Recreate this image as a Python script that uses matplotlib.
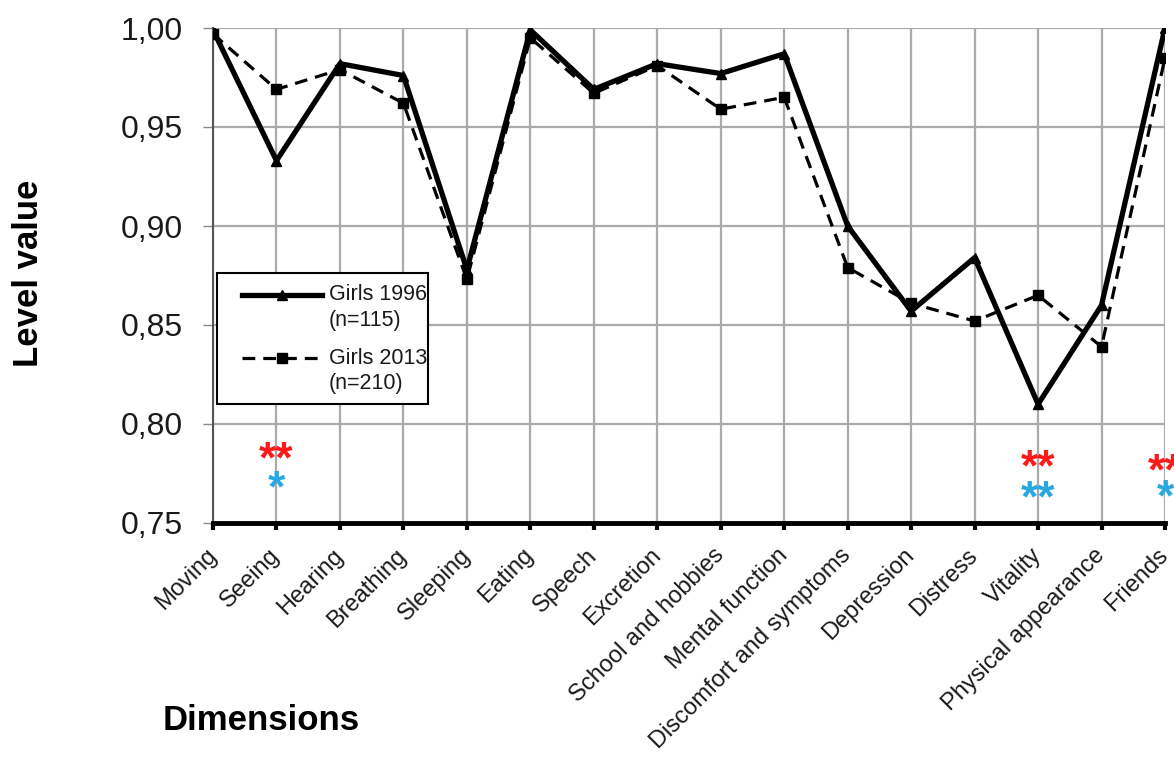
import matplotlib
matplotlib.use("Agg")
import matplotlib.pyplot as plt
import matplotlib.transforms as mtransforms
from matplotlib.patches import Rectangle
from matplotlib.ticker import FuncFormatter

plt.rcParams['font.family'] = ['Liberation Sans', 'DejaVu Sans']

dimensions = ["Moving", "Seeing", "Hearing", "Breathing", "Sleeping", "Eating",
              "Speech", "Excretion", "School and hobbies", "Mental function",
              "Discomfort and symptoms", "Depression", "Distress", "Vitality",
              "Physical appearance", "Friends"]
girls_1996 = [0.999, 0.933, 0.982, 0.976, 0.878, 0.999, 0.969, 0.982, 0.977,
              0.987, 0.900, 0.857, 0.884, 0.810, 0.860, 1.000]
girls_2013 = [0.997, 0.969, 0.979, 0.962, 0.873, 0.995, 0.967, 0.981, 0.959,
              0.965, 0.879, 0.861, 0.852, 0.865, 0.839, 0.985]
y_ticks = [0.75, 0.80, 0.85, 0.90, 0.95, 1.00]

# significance markers (category index, marks, vertical level)
sig_index = [1, 13, 15]
sig_red = ["**", "**", "**"]
sig_red_y = [0.7813, 0.7773, 0.7755]
sig_blue = ["*", "**", "*"]
sig_blue_y = [0.7667, 0.7616, 0.7623]

W, H = 1174, 762
fig = plt.figure(figsize=(W / 100, H / 100), dpi=100)
ax_left, ax_right, ax_top, ax_bottom = 213, 1165, 28, 523
ax = fig.add_axes([ax_left / W, 1 - ax_bottom / H, (ax_right - ax_left) / W,
                   (ax_bottom - ax_top) / H])

x = list(range(len(dimensions)))
solid_style = dict(color='black', lw=3.8, ls='-', marker='^', markersize=7)
dash_style = dict(color='black', lw=2.3, ls=(0, (4, 2.5)), marker='s', markersize=6.5)
ax.plot(x, girls_1996, zorder=4, **solid_style)
ax.plot(x, girls_2013, zorder=3, **dash_style)

ax.set_xlim(0, len(dimensions) - 1)
ax.set_ylim(0.75, 1.00)
ax.set_yticks(y_ticks)
ax.yaxis.set_major_formatter(FuncFormatter(lambda v, p: f"{v:.2f}".replace('.', ',')))
ax.set_xticks(x)
ax.set_xticklabels(dimensions, rotation=45, ha='right', va='center',
                   rotation_mode='anchor', fontsize=17, color='#1a1a1a')
offset = mtransforms.ScaledTranslation(4 / 100, 0, fig.dpi_scale_trans)
for lbl in ax.get_xticklabels():
    lbl.set_transform(lbl.get_transform() + offset)
ax.tick_params(axis='y', labelsize=23, length=7, width=1, color='#888888', pad=15,
               labelcolor='#1a1a1a')
ax.tick_params(axis='x', length=5, width=3, color='black', pad=16)

ax.grid(True, color='#aaaaaa', lw=1.6)
ax.set_axisbelow(True)
for s in ['top', 'right']:
    ax.spines[s].set_visible(False)
ax.spines['left'].set_color('#555555')
ax.spines['left'].set_linewidth(1.5)
ax.spines['bottom'].set_color('black')
ax.spines['bottom'].set_linewidth(3.5)

fig.text(29 / W, 1 - 273 / H, "Level value", fontsize=25, fontweight='bold',
         rotation=90, ha='center', va='center')
fig.text(261 / W, 1 - 721 / H, "Dimensions", fontsize=25, fontweight='bold',
         ha='center', va='center')

for i, r, ry, b, by in zip(sig_index, sig_red, sig_red_y, sig_blue, sig_blue_y):
    ax.text(i, ry, r, color='#ff1a1a', fontsize=32, ha='center', va='center',
            fontweight='bold', clip_on=False)
    ax.text(i, by, b, color='#29a8e0', fontsize=32, ha='center', va='center',
            fontweight='bold', clip_on=False)

# legend drawn by hand in figure pixels (box, handles, two-line labels)
def fx(px):
    return px / W

def fy(py):
    return 1 - py / H

fig.patches.append(Rectangle((fx(217), fy(404)), fx(428) - fx(217), fy(273) - fy(404),
                             transform=fig.transFigure, fill=True, facecolor='white',
                             edgecolor='black', lw=1.5, zorder=5))
legend_rows = [("Girls 1996", "(n=115)", solid_style, 295),
               ("Girls 2013", "(n=210)", dash_style, 358)]
for name, n_txt, style, ypx in legend_rows:
    st = dict(style)
    st.pop('marker')
    ms = style['markersize']
    fig.add_artist(plt.Line2D([fx(242), fx(322)], [fy(ypx), fy(ypx)],
                              transform=fig.transFigure, zorder=6, **st))
    fig.add_artist(plt.Line2D([fx(282)], [fy(ypx)], transform=fig.transFigure,
                              color='black', marker=style['marker'], markersize=ms,
                              ls='none', zorder=7))
    fig.text(fx(329), fy(ypx), name, fontsize=15.5, ha='left', va='center',
             color='#1a1a1a', zorder=7)
    fig.text(fx(329), fy(ypx + 26), n_txt, fontsize=15.5, ha='left', va='center',
             color='#1a1a1a', zorder=7)

fig.savefig("out.png", dpi=100)
